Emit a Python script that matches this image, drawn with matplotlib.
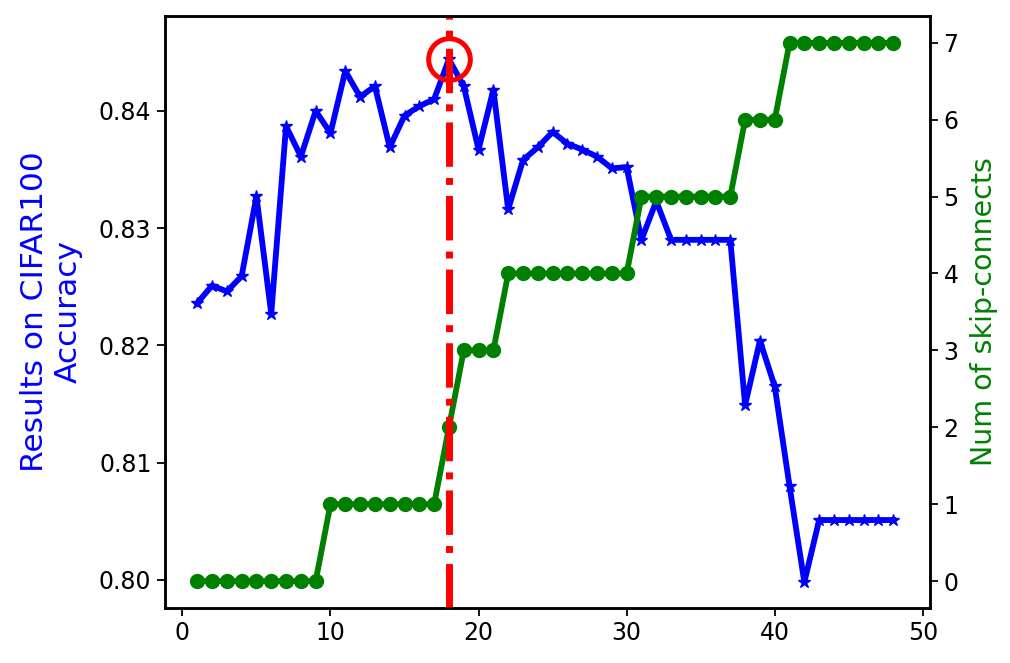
import matplotlib
matplotlib.use("Agg")
import matplotlib.pyplot as plt
import numpy as np

epochs = np.arange(1, 49)
accuracy = [0.8236, 0.8251, 0.8246, 0.8259, 0.8327, 0.8227, 0.8387, 0.8361,
            0.8400, 0.8381, 0.8434, 0.8412, 0.8421, 0.8369, 0.8396, 0.8404,
            0.8410, 0.8444, 0.8421, 0.8367, 0.8418, 0.8316, 0.8358, 0.8369,
            0.8382, 0.8372, 0.8367, 0.8361, 0.8351, 0.8352, 0.8290, 0.8323,
            0.8290, 0.8290, 0.8290, 0.8290, 0.8290, 0.8149, 0.8204, 0.8165,
            0.8080, 0.7998, 0.8051, 0.8051, 0.8051, 0.8051, 0.8051, 0.8051]
skip_connects = [0, 0, 0, 0, 0, 0, 0, 0, 0,
                 1, 1, 1, 1, 1, 1, 1, 1,
                 2,
                 3, 3, 3,
                 4, 4, 4, 4, 4, 4, 4, 4, 4,
                 5, 5, 5, 5, 5, 5, 5,
                 6, 6, 6,
                 7, 7, 7, 7, 7, 7, 7, 7]
best_epoch = 18

fig = plt.figure(figsize=(10.1, 6.63), dpi=100)
ax = fig.add_axes([0.163, 0.083, 0.758, 0.893])
ax2 = ax.twinx()

ax.plot(epochs, accuracy, color='b', lw=4.2, marker='*', ms=9)
ax.plot(best_epoch, accuracy[best_epoch - 1], marker='o', ms=30,
        mfc='none', mec='r', mew=3.6)
ax.set_ylim(0.7976, 0.8481)
ax.set_ylabel("Results on CIFAR100\nAccuracy", color='b', fontsize=22.5,
              labelpad=12)

ax2.plot(epochs, skip_connects, color='g', lw=4.2, marker='o', ms=10)
ax2.axvline(best_epoch, color='r', lw=5, ls='-.')
ax2.set_ylim(-0.35, 7.35)
ax2.set_ylabel("Num of skip-connects", color='g', fontsize=20.5, labelpad=8)

ax.set_xlim(-1.2, 50.5)
ax.set_xticks([0, 10, 20, 30, 40, 50])
ax.set_yticks([0.80, 0.81, 0.82, 0.83, 0.84])
ax2.set_yticks(range(8))
for a in (ax, ax2):
    a.tick_params(labelsize=17, width=1.3, length=6)
    for s in a.spines.values():
        s.set_linewidth(1.8)

fig.savefig("out.png", dpi=100)
